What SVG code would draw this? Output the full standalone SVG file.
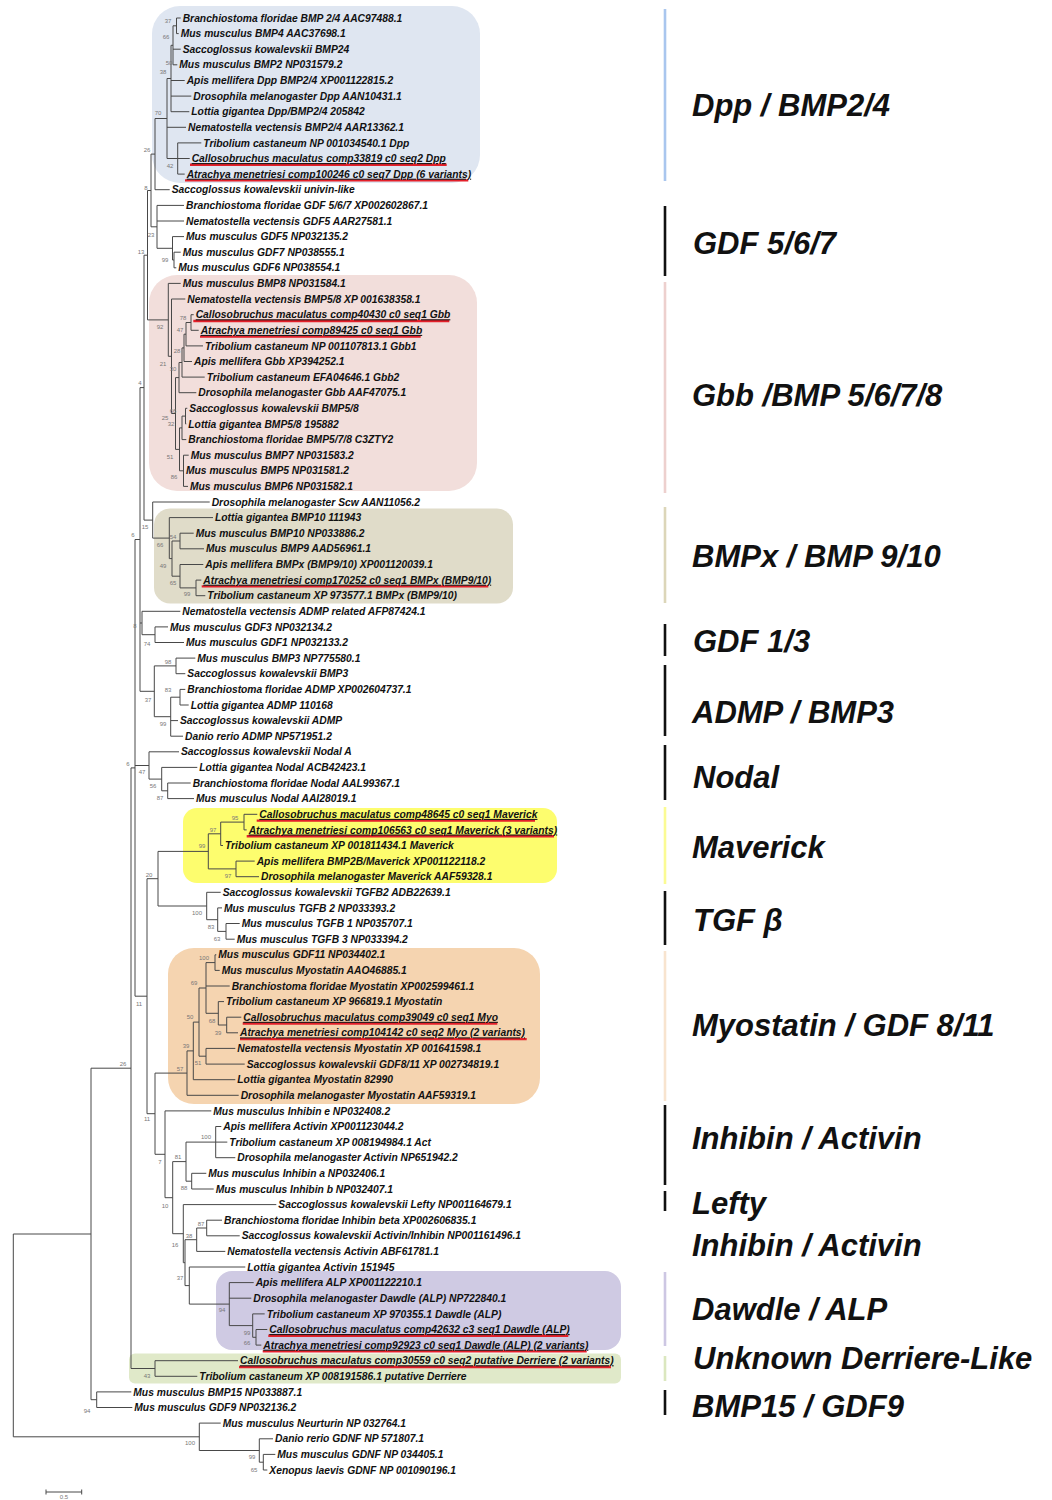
<svg xmlns="http://www.w3.org/2000/svg" width="1052" height="1500" viewBox="0 0 1052 1500">
<style>
.lf{font-family:"Liberation Sans",Arial,sans-serif;font-style:italic;font-weight:bold;font-size:10.3px;fill:#111}
.u{text-decoration:underline}
.bs{font-family:"Liberation Sans",Arial,sans-serif;font-size:6px;fill:#777;text-anchor:middle}
.cl{font-family:"Liberation Sans",Arial,sans-serif;font-style:italic;font-weight:bold;font-size:31px;fill:#111}
.br{stroke:#484848;stroke-width:1;fill:none}
.red{stroke:#e4202a;stroke-width:2.4}
.bar{stroke-width:2.6}
</style>
<rect width="1052" height="1500" fill="#fff"/>

<!-- shaded clades -->
<g id="clade-boxes">
<rect id="box-dpp" x="152" y="6" width="328" height="177" rx="28" fill="#dfe6f1"/>
<rect id="box-gbb" x="149" y="275" width="328" height="216" rx="28" fill="#f2dedb"/>
<rect id="box-bmpx" x="154" y="508.5" width="359" height="95" rx="16" fill="#e0dcc9"/>
<rect id="box-maverick" x="183" y="808" width="374" height="75" rx="14" fill="#fdfd6e"/>
<rect id="box-myostatin" x="168" y="948" width="372" height="156" rx="26" fill="#f5d4b0"/>
<rect id="box-dawdle" x="216" y="1271" width="405" height="79" rx="16" fill="#cfcae3"/>
<rect id="box-derriere" x="129" y="1353.5" width="492" height="30" rx="6" fill="#e0e9c9"/>
</g>

<!-- tree branches -->
<g id="connectors" class="br">
<path d="M176.5 18V33.6M176.5 18H180.7M176.5 33.6H178.7"/>
<path d="M173 25.8V64.8M173 25.8H176.5M173 49.2H180.7M173 64.8H177.3"/>
<path d="M171 45.3V111.7M171 45.3H173M171 80.5H184.7M171 96.1H191.3M171 111.7H189.3"/>
<path d="M177.7 142.9V174.1M177.7 142.9H201.3M177.7 158.5H189.7M177.7 174.1H184.7"/>
<path d="M167 78.5V158.5M167 78.5H171M167 127.3H186M167 158.5H177.7"/>
<path d="M155 118.5V189.7M155 118.5H167M155 189.7H169.7"/>
<path d="M174 252.2V267.8M174 252.2H180.7M174 267.8H176.3"/>
<path d="M172.5 236.6V260M172.5 236.6H184M172.5 260H174"/>
<path d="M157 205.4V248.3M157 205.4H184M157 221H184M157 248.3H172.5"/>
<path d="M151 154.1V226.8M151 154.1H155M151 226.8H157"/>
<path d="M191 314.7V330.3M191 314.7H193.7M191 330.3H198.7"/>
<path d="M186 322.5V345.9M186 322.5H191M186 345.9H203"/>
<path d="M184 334.2V361.5M184 334.2H186M184 361.5H192"/>
<path d="M182 347.9V377.1M182 347.9H184M182 377.1H204.7"/>
<path d="M179 362.5V392.7M179 362.5H182M179 392.7H196.3"/>
<path d="M185.5 408.3V423.9M185.5 408.3H187.3M185.5 423.9H186.3"/>
<path d="M182 416.1V439.6M182 416.1H185.5M182 439.6H186.3"/>
<path d="M183.5 455.2V486.4M183.5 455.2H188.7M183.5 470.8H184M183.5 486.4H188"/>
<path d="M179.5 427.9V470.8M179.5 427.9H182M179.5 470.8H183.5"/>
<path d="M175.5 377.6V449.4M175.5 377.6H179M175.5 449.4H179.5"/>
<path d="M171.5 299V413.5M171.5 299H185.3M171.5 413.5H175.5"/>
<path d="M168.3 283.4V356.3M168.3 283.4H180.7M168.3 356.3H171.5"/>
<path d="M147.5 190.5V319.9M147.5 190.5H151M147.5 319.9H168.3"/>
<path d="M180 533.2V548.8M180 533.2H193.7M180 548.8H204"/>
<path d="M196 580.1V595.7M196 580.1H201.3M196 595.7H205.3"/>
<path d="M180 564.5V587.9M180 564.5H203.3M180 587.9H196"/>
<path d="M172 541V576.2M172 541H180M172 576.2H180"/>
<path d="M169.3 517.6V558.6M169.3 517.6H213M169.3 558.6H172"/>
<path d="M152.7 502V538.1M152.7 502H209.7M152.7 538.1H169.3"/>
<path d="M144 255.2V520.1M144 255.2H147.5M144 520.1H152.7"/>
<path d="M155 626.9V642.5M155 626.9H168M155 642.5H184"/>
<path d="M142 611.3V634.7M142 611.3H180.3M142 634.7H155"/>
<path d="M176 658.1V673.7M176 658.1H195.3M176 673.7H185.3"/>
<path d="M180 689.4V705M180 689.4H185.3M180 705H188.7"/>
<path d="M170.7 697.2V736.2M170.7 697.2H180M170.7 720.6H178M170.7 736.2H183"/>
<path d="M154.3 665.9V716.7M154.3 665.9H176M154.3 716.7H170.7"/>
<path d="M140 387.6V691.3M140 387.6H144M140 623H142M140 691.3H154.3"/>
<path d="M167.7 783V798.6M167.7 783H190.7M167.7 798.6H194"/>
<path d="M161.7 767.4V790.8M161.7 767.4H197.3M161.7 790.8H167.7"/>
<path d="M149 751.8V779.1M149 751.8H179M149 779.1H161.7"/>
<path d="M244 814.3V829.9M244 814.3H257.3M244 829.9H246.7"/>
<path d="M220.7 822.1V845.5M220.7 822.1H244M220.7 845.5H223"/>
<path d="M236 861.1V876.7M236 861.1H254.7M236 876.7H259"/>
<path d="M208.3 833.8V868.9M208.3 833.8H220.7M208.3 868.9H236"/>
<path d="M226 923.5V939.2M226 923.5H239.7M226 939.2H234.7"/>
<path d="M217.7 907.9V931.4M217.7 907.9H222M217.7 931.4H226"/>
<path d="M206.7 892.3V919.7M206.7 892.3H220.7M206.7 919.7H217.7"/>
<path d="M158 851.4V906M158 851.4H208.3M158 906H206.7"/>
<path d="M215 954.8V970.4M215 954.8H216.3M215 970.4H219.7"/>
<path d="M226.7 1017.2V1032.8M226.7 1017.2H241.3M226.7 1032.8H238"/>
<path d="M218.3 1001.6V1025M218.3 1001.6H224M218.3 1025H226.7"/>
<path d="M206 962.6V1013.3M206 962.6H215M206 986H229.7M206 1013.3H218.3"/>
<path d="M206 1048.4V1064.1M206 1048.4H235.3M206 1064.1H244.7"/>
<path d="M199 988V1056.2M199 988H206M199 1056.2H206"/>
<path d="M193.3 1022.1V1079.7M193.3 1022.1H199M193.3 1079.7H235.3"/>
<path d="M187 1050.9V1095.3M187 1050.9H193.3M187 1095.3H238.7"/>
<path d="M215.7 1126.5V1157.7M215.7 1126.5H221.3M215.7 1142.1H227.3M215.7 1157.7H235.3"/>
<path d="M191.7 1173.3V1189M191.7 1173.3H206.3M191.7 1189H213.7"/>
<path d="M186 1142.1V1181.2M186 1142.1H215.7M186 1181.2H191.7"/>
<path d="M206.7 1220.2V1235.8M206.7 1220.2H222M206.7 1235.8H239.7"/>
<path d="M196.7 1228V1251.4M196.7 1228H206.7M196.7 1251.4H225.3"/>
<path d="M256 1329.5V1345.1M256 1329.5H267.3M256 1345.1H261.3"/>
<path d="M252.7 1313.9V1337.3M252.7 1313.9H264.7M252.7 1337.3H256"/>
<path d="M229.3 1282.6V1325.6M229.3 1282.6H253.7M229.3 1298.2H251.3M229.3 1325.6H252.7"/>
<path d="M189.3 1267V1304.1M189.3 1267H245.3M189.3 1304.1H229.3"/>
<path d="M185 1239.7V1285.6M185 1239.7H196.7M185 1285.6H189.3"/>
<path d="M183.3 1204.6V1262.7M183.3 1204.6H276.3M183.3 1262.7H185"/>
<path d="M172.7 1161.6V1233.7M172.7 1161.6H186M172.7 1233.7H183.3"/>
<path d="M165 1110.9V1197.7M165 1110.9H211.3M165 1197.7H172.7"/>
<path d="M155 1073.1V1154.3M155 1073.1H187M155 1154.3H165"/>
<path d="M147 878.7V1113.7M147 878.7H158M147 1113.7H155"/>
<path d="M135 539.5V996.2M135 539.5H140M135 765.5H149M135 996.2H147"/>
<path d="M155 1360.7V1376.3M155 1360.7H238M155 1376.3H197.3"/>
<path d="M131 767.9V1368.5M131 767.9H135M131 1368.5H155"/>
<path d="M96.7 1391.9V1407.5M96.7 1391.9H131.3M96.7 1407.5H132.3"/>
<path d="M91 1068.2V1399.7M91 1068.2H131M91 1399.7H96.7"/>
<path d="M263.3 1454.4V1470M263.3 1454.4H275.3M263.3 1470H267.3"/>
<path d="M259.3 1438.8V1462.2M259.3 1438.8H273M259.3 1462.2H263.3"/>
<path d="M199.3 1423.1V1450.5M199.3 1423.1H220.7M199.3 1450.5H259.3"/>
<path d="M13.3 1234V1436.8M13.3 1234H91M13.3 1436.8H199.3"/>
</g>

<!-- red marks under beetle transcripts -->
<g id="highlights" class="red">
<path d="M190 164.8H446.7M185 180.4H468.3M193.3 321H449.3M200 336.6H420.7M201.7 586.4H488.3M256.7 820.6H535M246.7 836.2H554M242.7 1023.5H497.3M240 1039.1H526.7M268.3 1335.8H568.3M262.7 1351.4H586.7M239 1367H611"/>
</g>

<!-- leaves -->
<g id="leaves" class="lf">
<g id="t01"><text x="182.7" y="21.6">Branchiostoma floridae BMP 2/4 AAC97488.1</text></g>
<g id="t02"><text x="180.7" y="37.2">Mus musculus BMP4 AAC37698.1</text></g>
<g id="t03"><text x="182.7" y="52.8">Saccoglossus kowalevskii BMP24</text></g>
<g id="t04"><text x="179.3" y="68.4">Mus musculus BMP2 NP031579.2</text></g>
<g id="t05"><text x="186.7" y="84.1">Apis mellifera Dpp BMP2/4 XP001122815.2</text></g>
<g id="t06"><text x="193.3" y="99.7">Drosophila melanogaster Dpp AAN10431.1</text></g>
<g id="t07"><text x="191.3" y="115.3">Lottia gigantea Dpp/BMP2/4 205842</text></g>
<g id="t08"><text x="188" y="130.9">Nematostella vectensis BMP2/4 AAR13362.1</text></g>
<g id="t09"><text x="203.3" y="146.5">Tribolium castaneum NP 001034540.1 Dpp</text></g>
<g id="t10"><text class="u" x="191.7" y="162.1">Callosobruchus maculatus comp33819 c0 seq2 Dpp</text></g>
<g id="t11"><text class="u" x="186.7" y="177.7">Atrachya menetriesi comp100246 c0 seq7 Dpp (6 variants)</text></g>
<g id="t12"><text x="171.7" y="193.3">Saccoglossus kowalevskii univin-like</text></g>
<g id="t13"><text x="186" y="209">Branchiostoma floridae GDF 5/6/7 XP002602867.1</text></g>
<g id="t14"><text x="186" y="224.6">Nematostella vectensis GDF5 AAR27581.1</text></g>
<g id="t15"><text x="186" y="240.2">Mus musculus GDF5 NP032135.2</text></g>
<g id="t16"><text x="182.7" y="255.8">Mus musculus GDF7 NP038555.1</text></g>
<g id="t17"><text x="178.3" y="271.4">Mus musculus GDF6 NP038554.1</text></g>
<g id="t18"><text x="182.7" y="287">Mus musculus BMP8 NP031584.1</text></g>
<g id="t19"><text x="187.3" y="302.6">Nematostella vectensis BMP5/8 XP 001638358.1</text></g>
<g id="t20"><text class="u" x="195.7" y="318.3">Callosobruchus maculatus comp40430 c0 seq1 Gbb</text></g>
<g id="t21"><text class="u" x="200.7" y="333.9">Atrachya menetriesi comp89425 c0 seq1 Gbb</text></g>
<g id="t22"><text x="205" y="349.5">Tribolium castaneum NP 001107813.1 Gbb1</text></g>
<g id="t23"><text x="194" y="365.1">Apis mellifera Gbb XP394252.1</text></g>
<g id="t24"><text x="206.7" y="380.7">Tribolium castaneum EFA04646.1 Gbb2</text></g>
<g id="t25"><text x="198.3" y="396.3">Drosophila melanogaster Gbb AAF47075.1</text></g>
<g id="t26"><text x="189.3" y="411.9">Saccoglossus kowalevskii BMP5/8</text></g>
<g id="t27"><text x="188.3" y="427.5">Lottia gigantea BMP5/8 195882</text></g>
<g id="t28"><text x="188.3" y="443.2">Branchiostoma floridae BMP5/7/8 C3ZTY2</text></g>
<g id="t29"><text x="190.7" y="458.8">Mus musculus BMP7 NP031583.2</text></g>
<g id="t30"><text x="186" y="474.4">Mus musculus BMP5 NP031581.2</text></g>
<g id="t31"><text x="190" y="490">Mus musculus BMP6 NP031582.1</text></g>
<g id="t32"><text x="211.7" y="505.6">Drosophila melanogaster Scw AAN11056.2</text></g>
<g id="t33"><text x="215" y="521.2">Lottia gigantea BMP10 111943</text></g>
<g id="t34"><text x="195.7" y="536.8">Mus musculus BMP10 NP033886.2</text></g>
<g id="t35"><text x="206" y="552.4">Mus musculus BMP9 AAD56961.1</text></g>
<g id="t36"><text x="205.3" y="568.1">Apis mellifera BMPx (BMP9/10) XP001120039.1</text></g>
<g id="t37"><text class="u" x="203.3" y="583.7">Atrachya menetriesi comp170252 c0 seq1 BMPx (BMP9/10)</text></g>
<g id="t38"><text x="207.3" y="599.3">Tribolium castaneum XP 973577.1 BMPx (BMP9/10)</text></g>
<g id="t39"><text x="182.3" y="614.9">Nematostella vectensis ADMP related AFP87424.1</text></g>
<g id="t40"><text x="170" y="630.5">Mus musculus GDF3 NP032134.2</text></g>
<g id="t41"><text x="186" y="646.1">Mus musculus GDF1 NP032133.2</text></g>
<g id="t42"><text x="197.3" y="661.7">Mus musculus BMP3 NP775580.1</text></g>
<g id="t43"><text x="187.3" y="677.3">Saccoglossus kowalevskii BMP3</text></g>
<g id="t44"><text x="187.3" y="693">Branchiostoma floridae ADMP XP002604737.1</text></g>
<g id="t45"><text x="190.7" y="708.6">Lottia gigantea ADMP 110168</text></g>
<g id="t46"><text x="180" y="724.2">Saccoglossus kowalevskii ADMP</text></g>
<g id="t47"><text x="185" y="739.8">Danio rerio ADMP NP571951.2</text></g>
<g id="t48"><text x="181" y="755.4">Saccoglossus kowalevskii Nodal A</text></g>
<g id="t49"><text x="199.3" y="771">Lottia gigantea Nodal ACB42423.1</text></g>
<g id="t50"><text x="192.7" y="786.6">Branchiostoma floridae Nodal AAL99367.1</text></g>
<g id="t51"><text x="196" y="802.2">Mus musculus Nodal AAI28019.1</text></g>
<g id="t52"><text class="u" x="259.3" y="817.9">Callosobruchus maculatus comp48645 c0 seq1 Maverick</text></g>
<g id="t53"><text class="u" x="248.7" y="833.5">Atrachya menetriesi comp106563 c0 seq1 Maverick (3 variants)</text></g>
<g id="t54"><text x="225" y="849.1">Tribolium castaneum XP 001811434.1 Maverick</text></g>
<g id="t55"><text x="256.7" y="864.7">Apis mellifera BMP2B/Maverick XP001122118.2</text></g>
<g id="t56"><text x="261" y="880.3">Drosophila melanogaster Maverick AAF59328.1</text></g>
<g id="t57"><text x="222.7" y="895.9">Saccoglossus kowalevskii TGFB2 ADB22639.1</text></g>
<g id="t58"><text x="224" y="911.5">Mus musculus TGFB 2 NP033393.2</text></g>
<g id="t59"><text x="241.7" y="927.1">Mus musculus TGFB 1 NP035707.1</text></g>
<g id="t60"><text x="236.7" y="942.8">Mus musculus TGFB 3 NP033394.2</text></g>
<g id="t61"><text x="218.3" y="958.4">Mus musculus GDF11 NP034402.1</text></g>
<g id="t62"><text x="221.7" y="974">Mus musculus Myostatin AAO46885.1</text></g>
<g id="t63"><text x="231.7" y="989.6">Branchiostoma floridae Myostatin XP002599461.1</text></g>
<g id="t64"><text x="226" y="1005.2">Tribolium castaneum XP 966819.1 Myostatin</text></g>
<g id="t65"><text class="u" x="243.3" y="1020.8">Callosobruchus maculatus comp39049 c0 seq1 Myo</text></g>
<g id="t66"><text class="u" x="240" y="1036.4">Atrachya menetriesi comp104142 c0 seq2 Myo (2 variants)</text></g>
<g id="t67"><text x="237.3" y="1052">Nematostella vectensis Myostatin XP 001641598.1</text></g>
<g id="t68"><text x="246.7" y="1067.7">Saccoglossus kowalevskii GDF8/11 XP 002734819.1</text></g>
<g id="t69"><text x="237.3" y="1083.3">Lottia gigantea Myostatin 82990</text></g>
<g id="t70"><text x="240.7" y="1098.9">Drosophila melanogaster Myostatin AAF59319.1</text></g>
<g id="t71"><text x="213.3" y="1114.5">Mus musculus Inhibin e NP032408.2</text></g>
<g id="t72"><text x="223.3" y="1130.1">Apis mellifera Activin XP001123044.2</text></g>
<g id="t73"><text x="229.3" y="1145.7">Tribolium castaneum XP 008194984.1 Act</text></g>
<g id="t74"><text x="237.3" y="1161.3">Drosophila melanogaster Activin NP651942.2</text></g>
<g id="t75"><text x="208.3" y="1176.9">Mus musculus Inhibin a NP032406.1</text></g>
<g id="t76"><text x="215.7" y="1192.6">Mus musculus Inhibin b NP032407.1</text></g>
<g id="t77"><text x="278.3" y="1208.2">Saccoglossus kowalevskii Lefty NP001164679.1</text></g>
<g id="t78"><text x="224" y="1223.8">Branchiostoma floridae Inhibin beta XP002606835.1</text></g>
<g id="t79"><text x="241.7" y="1239.4">Saccoglossus kowalevskii Activin/Inhibin NP001161496.1</text></g>
<g id="t80"><text x="227.3" y="1255">Nematostella vectensis Activin ABF61781.1</text></g>
<g id="t81"><text x="247.3" y="1270.6">Lottia gigantea Activin 151945</text></g>
<g id="t82"><text x="255.7" y="1286.2">Apis mellifera ALP XP001122210.1</text></g>
<g id="t83"><text x="253.3" y="1301.8">Drosophila melanogaster Dawdle (ALP) NP722840.1</text></g>
<g id="t84"><text x="266.7" y="1317.5">Tribolium castaneum XP 970355.1 Dawdle (ALP)</text></g>
<g id="t85"><text class="u" x="269.3" y="1333.1">Callosobruchus maculatus comp42632 c3 seq1 Dawdle (ALP)</text></g>
<g id="t86"><text class="u" x="263.3" y="1348.7">Atrachya menetriesi comp92923 c0 seq1 Dawdle (ALP) (2 variants)</text></g>
<g id="t87"><text class="u" x="240" y="1364.3">Callosobruchus maculatus comp30559 c0 seq2 putative Derriere (2 variants)</text></g>
<g id="t88"><text x="199.3" y="1379.9">Tribolium castaneum XP 008191586.1 putative Derriere</text></g>
<g id="t89"><text x="133.3" y="1395.5">Mus musculus BMP15 NP033887.1</text></g>
<g id="t90"><text x="134.3" y="1411.1">Mus musculus GDF9 NP032136.2</text></g>
<g id="t91"><text x="222.7" y="1426.7">Mus musculus Neurturin NP 032764.1</text></g>
<g id="t92"><text x="275" y="1442.4">Danio rerio GDNF NP 571807.1</text></g>
<g id="t93"><text x="277.3" y="1458">Mus musculus GDNF NP 034405.1</text></g>
<g id="t94"><text x="269.3" y="1473.6">Xenopus laevis GDNF NP 001090196.1</text></g>
</g>

<!-- bootstrap support -->
<g id="bootstrap" class="bs">
<text x="168" y="23">37</text><text x="166" y="39">66</text><text x="169" y="65">50</text><text x="163" y="74">38</text>
<text x="158" y="115">70</text><text x="170" y="168">42</text><text x="147" y="152">26</text><text x="146" y="190">8</text>
<text x="151" y="237">23</text><text x="141" y="254">13</text><text x="165" y="262">99</text>
<text x="183" y="320">78</text><text x="160" y="329">92</text><text x="180" y="332">47</text><text x="177" y="353">28</text>
<text x="163" y="366">21</text><text x="173" y="371">30</text><text x="140" y="385">4</text>
<text x="173" y="413">66</text><text x="165" y="420">25</text><text x="171" y="426">32</text><text x="170" y="459">51</text><text x="174" y="479">86</text>
<text x="145" y="529">15</text><text x="133" y="537">6</text><text x="173" y="539">54</text><text x="160" y="547">66</text>
<text x="163" y="568">49</text><text x="173" y="585">65</text><text x="187" y="596">99</text>
<text x="135" y="628">8</text><text x="147" y="646">74</text><text x="168" y="664">98</text><text x="168" y="692">83</text>
<text x="148" y="702">37</text><text x="163" y="726">99</text>
<text x="128" y="766">6</text><text x="142" y="774">47</text><text x="153" y="788">56</text><text x="160" y="800">87</text>
<text x="235" y="820">95</text><text x="213" y="832">97</text><text x="202" y="848">99</text><text x="149" y="877">20</text><text x="228" y="878">97</text>
<text x="197" y="915">100</text><text x="211" y="929">83</text><text x="217" y="941">63</text>
<text x="204" y="960">100</text><text x="194" y="985">69</text><text x="139" y="1006">11</text><text x="190" y="1019">50</text>
<text x="212" y="1023">68</text><text x="218" y="1035">39</text><text x="186" y="1048">39</text><text x="123" y="1066">26</text>
<text x="198" y="1065">51</text><text x="180" y="1071">57</text>
<text x="147" y="1121">11</text><text x="206" y="1139">100</text><text x="178" y="1159">81</text><text x="160" y="1164">7</text>
<text x="184" y="1190">88</text><text x="165" y="1208">10</text><text x="201" y="1226">87</text><text x="189" y="1238">38</text>
<text x="175" y="1247">16</text><text x="180" y="1280">37</text><text x="222" y="1312">94</text><text x="247" y="1335">99</text>
<text x="247" y="1345">66</text><text x="147" y="1378">43</text><text x="87" y="1413">94</text>
<text x="190" y="1445">100</text><text x="252" y="1459">99</text><text x="254" y="1472">65</text>
</g>

<!-- family brackets and names -->
<g id="families">
<g id="fam-dpp"><line class="bar" x1="665" y1="9" x2="665" y2="181" stroke="#a9c6ee"/><text class="cl" x="692" y="116">Dpp / BMP2/4</text></g>
<g id="fam-gdf567"><line class="bar" x1="665" y1="206" x2="665" y2="276" stroke="#111"/><text class="cl" x="693" y="254">GDF 5/6/7</text></g>
<g id="fam-gbb"><line class="bar" x1="665" y1="282" x2="665" y2="493" stroke="#edd0ce"/><text class="cl" x="692" y="406">Gbb /BMP 5/6/7/8</text></g>
<g id="fam-bmpx"><line class="bar" x1="665" y1="507" x2="665" y2="603" stroke="#dcd6b9"/><text class="cl" x="692" y="567">BMPx / BMP 9/10</text></g>
<g id="fam-gdf13"><line class="bar" x1="665" y1="624" x2="665" y2="656" stroke="#111"/><text class="cl" x="693" y="652">GDF 1/3</text></g>
<g id="fam-admp"><line class="bar" x1="665" y1="665" x2="665" y2="736" stroke="#111"/><text class="cl" x="692" y="723">ADMP / BMP3</text></g>
<g id="fam-nodal"><line class="bar" x1="665" y1="745" x2="665" y2="800" stroke="#111"/><text class="cl" x="693" y="788">Nodal</text></g>
<g id="fam-maverick"><line class="bar" x1="665" y1="807" x2="665" y2="884" stroke="#fbfb94"/><text class="cl" x="692" y="858">Maverick</text></g>
<g id="fam-tgfb"><line class="bar" x1="665" y1="891" x2="665" y2="945" stroke="#111"/><text class="cl" x="693" y="931">TGF β</text></g>
<g id="fam-myostatin"><line class="bar" x1="665" y1="951" x2="665" y2="1101" stroke="#f8e4cf"/><text class="cl" x="692" y="1036">Myostatin / GDF 8/11</text></g>
<g id="fam-inhibin1"><line class="bar" x1="665" y1="1105" x2="665" y2="1185" stroke="#111"/><text class="cl" x="692" y="1149">Inhibin / Activin</text></g>
<g id="fam-lefty"><line class="bar" x1="665" y1="1191" x2="665" y2="1211" stroke="#111"/><text class="cl" x="692" y="1214">Lefty</text></g>
<g id="fam-inhibin2"><text class="cl" x="692" y="1256">Inhibin / Activin</text></g>
<g id="fam-dawdle"><line class="bar" x1="665" y1="1272" x2="665" y2="1346" stroke="#cdc7e3"/><text class="cl" x="692" y="1320">Dawdle / ALP</text></g>
<g id="fam-derriere"><line class="bar" x1="665" y1="1356" x2="665" y2="1381" stroke="#dbe7bf"/><text class="cl" x="693" y="1369">Unknown Derriere-Like</text></g>
<g id="fam-bmp15"><line class="bar" x1="665" y1="1390" x2="665" y2="1415" stroke="#111"/><text class="cl" x="692" y="1417">BMP15 / GDF9</text></g>
</g>

<!-- scale bar -->
<g id="scale">
<path class="br" d="M46 1492H81.7M46 1489.5V1494.5M81.7 1489.5V1494.5"/>
<text class="bs" x="64" y="1498.5">0.5</text>
</g>
</svg>
